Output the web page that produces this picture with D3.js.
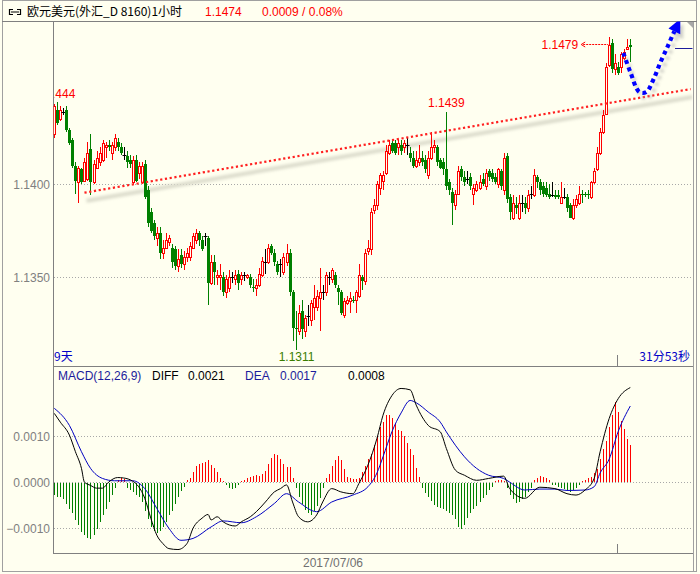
<!DOCTYPE html>
<html><head><meta charset="utf-8">
<script src="https://cdn.jsdelivr.net/npm/d3@7/dist/d3.min.js"></script>
<style>
html,body{margin:0;padding:0;background:#fffff0;}
svg{display:block;}
text{font-family:"Liberation Sans",Arial,sans-serif;font-size:12px;}
.cjk{font-family:"Noto Sans CJK SC","Liberation Sans",sans-serif;}
</style></head><body>
<svg id="c" width="700" height="574"></svg>
<script>
// ---------- DATA ----------
const title = "欧元美元(外汇_D 8160)1小时";
const lastPrice = "1.1474";
const change = "0.0009 / 0.08%";
const rangeLabel = "9天";
const timeLeft = "31分53秒";
const dateLabel = "2017/07/06";
const priceTicks = [1.1400, 1.1350];
const macdTicks = [0.0010, 0.0000, -0.0010];
const macdLegend = {name:"MACD(12,26,9)", diff:"0.0021", dea:"0.0017", macd:"0.0008"};

// hourly candles: [open, high, low, close]
const ohlc = [
[1.1427,1.1443,1.1425,1.1442],[1.1440,1.1444,1.1432,1.1433],[1.1435,1.1442,1.1434,1.1440],[1.1439,1.1441,1.1437,1.1439],
[1.1440,1.1442,1.1428,1.1429],[1.1429,1.1430,1.1421,1.1422],[1.1424,1.1425,1.1409,1.1410],[1.1410,1.1412,1.1395,1.1402],
[1.1401,1.1410,1.1390,1.1409],[1.1408,1.1409,1.1400,1.1401],[1.1402,1.1414,1.1401,1.1412],[1.1403,1.1423,1.1402,1.1417],
[1.1419,1.1427,1.1394,1.1401],[1.1401,1.1413,1.1400,1.1411],[1.1409,1.1418,1.1408,1.1414],[1.1412,1.1420,1.1410,1.1417],
[1.1413,1.1424,1.1412,1.1422],[1.1420,1.1423,1.1414,1.1421],[1.1421,1.1424,1.1418,1.1420],[1.1417,1.1423,1.1413,1.1421],
[1.1420,1.1427,1.1418,1.1425],[1.1423,1.1425,1.1418,1.1420],[1.1420,1.1422,1.1416,1.1417],[1.1416,1.1420,1.1413,1.1416],
[1.1415,1.1418,1.1409,1.1412],[1.1413,1.1416,1.1409,1.1411],[1.1401,1.1415,1.1400,1.1413],[1.1413,1.1416,1.1401,1.1402],
[1.1406,1.1412,1.1403,1.1410],[1.1401,1.1412,1.1400,1.1410],[1.1411,1.1413,1.1392,1.1393],[1.1397,1.1399,1.1377,1.1379],
[1.1385,1.1387,1.1374,1.1375],[1.1379,1.1381,1.1370,1.1372],[1.1371,1.1377,1.1367,1.1374],[1.1374,1.1377,1.1360,1.1363],
[1.1363,1.1370,1.1360,1.1366],[1.1366,1.1374,1.1365,1.1370],[1.1369,1.1373,1.1367,1.1371],[1.1366,1.1368,1.1355,1.1358],
[1.1365,1.1367,1.1354,1.1356],[1.1356,1.1365,1.1353,1.1360],[1.1362,1.1365,1.1355,1.1357],[1.1357,1.1364,1.1354,1.1361],
[1.1361,1.1366,1.1358,1.1363],[1.1361,1.1369,1.1359,1.1367],[1.1366,1.1374,1.1365,1.1372],[1.1370,1.1376,1.1368,1.1374],
[1.1374,1.1375,1.1367,1.1370],[1.1370,1.1372,1.1364,1.1365],[1.1372,1.1374,1.1367,1.1372],[1.1371,1.1372,1.1335,1.1347],
[1.1347,1.1362,1.1346,1.1358],[1.1358,1.1362,1.1346,1.1353],[1.1350,1.1354,1.1346,1.1351],[1.1350,1.1357,1.1343,1.1351],
[1.1350,1.1353,1.1340,1.1342],[1.1342,1.1351,1.1339,1.1349],[1.1344,1.1354,1.1342,1.1350],[1.1350,1.1353,1.1347,1.1350],
[1.1349,1.1354,1.1346,1.1351],[1.1352,1.1354,1.1343,1.1347],[1.1349,1.1353,1.1346,1.1351],[1.1351,1.1353,1.1348,1.1351],
[1.1350,1.1352,1.1349,1.1351],[1.1350,1.1352,1.1344,1.1346],[1.1345,1.1349,1.1342,1.1344],[1.1344,1.1349,1.1340,1.1346],
[1.1346,1.1355,1.1345,1.1352],[1.1351,1.1361,1.1350,1.1359],[1.1358,1.1365,1.1352,1.1358],[1.1358,1.1368,1.1357,1.1366],
[1.1367,1.1368,1.1362,1.1363],[1.1363,1.1365,1.1356,1.1358],[1.1357,1.1359,1.1351,1.1353],[1.1357,1.1360,1.1350,1.1357],
[1.1353,1.1363,1.1351,1.1361],[1.1358,1.1368,1.1356,1.1363],[1.1363,1.1365,1.1340,1.1342],[1.1342,1.1343,1.1316,1.1323],
[1.1323,1.1332,1.1311,1.1322],[1.1321,1.1335,1.1319,1.1331],[1.1332,1.1338,1.1317,1.1322],[1.1321,1.1330,1.1318,1.1328],
[1.1329,1.1335,1.1324,1.1329],[1.1327,1.1338,1.1324,1.1336],[1.1334,1.1346,1.1327,1.1339],[1.1334,1.1343,1.1332,1.1340],
[1.1339,1.1355,1.1321,1.1342],[1.1342,1.1346,1.1338,1.1342],[1.1342,1.1353,1.1340,1.1351],[1.1350,1.1353,1.1346,1.1350],
[1.1349,1.1355,1.1347,1.1354],[1.1351,1.1353,1.1344,1.1346],[1.1344,1.1346,1.1335,1.1342],[1.1342,1.1343,1.1330,1.1331],
[1.1330,1.1339,1.1328,1.1337],[1.1336,1.1340,1.1335,1.1338],[1.1337,1.1342,1.1331,1.1339],[1.1338,1.1340,1.1336,1.1337],
[1.1338,1.1343,1.1331,1.1342],[1.1340,1.1357,1.1339,1.1351],[1.1350,1.1351,1.1343,1.1348],[1.1348,1.1365,1.1346,1.1363],
[1.1364,1.1370,1.1362,1.1366],[1.1365,1.1387,1.1362,1.1385],[1.1386,1.1392,1.1384,1.1389],[1.1389,1.1402,1.1386,1.1400],
[1.1398,1.1406,1.1394,1.1405],[1.1402,1.1407,1.1397,1.1405],[1.1406,1.1421,1.1405,1.1418],[1.1417,1.1424,1.1416,1.1421],
[1.1422,1.1424,1.1417,1.1418],[1.1422,1.1424,1.1416,1.1417],[1.1420,1.1424,1.1416,1.1422],[1.1421,1.1424,1.1416,1.1418],
[1.1420,1.1424,1.1417,1.1422],[1.1421,1.1425,1.1416,1.1421],[1.1417,1.1420,1.1412,1.1414],[1.1414,1.1418,1.1409,1.1410],
[1.1410,1.1418,1.1409,1.1413],[1.1412,1.1421,1.1410,1.1414],[1.1414,1.1418,1.1410,1.1412],[1.1413,1.1416,1.1406,1.1408],
[1.1405,1.1418,1.1403,1.1414],[1.1414,1.1428,1.1413,1.1420],[1.1420,1.1424,1.1417,1.1421],[1.1420,1.1421,1.1410,1.1412],
[1.1413,1.1414,1.1408,1.1409],[1.1412,1.1414,1.1405,1.1408],[1.1408,1.1439,1.1397,1.1399],[1.1401,1.1403,1.1394,1.1397],
[1.1396,1.1398,1.1378,1.1390],[1.1389,1.1397,1.1386,1.1395],[1.1395,1.1410,1.1394,1.1407],[1.1408,1.1410,1.1402,1.1404],
[1.1404,1.1407,1.1399,1.1401],[1.1403,1.1407,1.1400,1.1403],[1.1404,1.1406,1.1397,1.1399],[1.1395,1.1400,1.1389,1.1398],
[1.1397,1.1402,1.1396,1.1400],[1.1398,1.1405,1.1397,1.1401],[1.1403,1.1406,1.1399,1.1400],[1.1399,1.1408,1.1397,1.1406],
[1.1407,1.1408,1.1402,1.1404],[1.1406,1.1408,1.1401,1.1403],[1.1404,1.1406,1.1400,1.1401],[1.1400,1.1409,1.1398,1.1408],
[1.1407,1.1408,1.1397,1.1399],[1.1397,1.1417,1.1394,1.1414],[1.1415,1.1417,1.1390,1.1392],[1.1393,1.1395,1.1381,1.1385],
[1.1382,1.1394,1.1381,1.1390],[1.1389,1.1393,1.1384,1.1387],[1.1382,1.1394,1.1381,1.1390],[1.1390,1.1394,1.1385,1.1390],
[1.1390,1.1393,1.1384,1.1387],[1.1387,1.1397,1.1385,1.1394],[1.1395,1.1399,1.1392,1.1395],[1.1394,1.1408,1.1393,1.1405],
[1.1404,1.1405,1.1398,1.1401],[1.1401,1.1403,1.1394,1.1397],[1.1399,1.1401,1.1393,1.1395],[1.1398,1.1401,1.1393,1.1394],
[1.1395,1.1400,1.1392,1.1393],[1.1394,1.1401,1.1393,1.1394],[1.1394,1.1397,1.1392,1.1393],[1.1394,1.1397,1.1392,1.1393],
[1.1390,1.1401,1.1390,1.1393],[1.1393,1.1398,1.1392,1.1393],[1.1393,1.1395,1.1385,1.1387],[1.1389,1.1390,1.1382,1.1382],
[1.1382,1.1392,1.1381,1.1389],[1.1389,1.1394,1.1387,1.1392],[1.1390,1.1399,1.1389,1.1395],[1.1395,1.1397,1.1390,1.1394],
[1.1395,1.1396,1.1393,1.1394],[1.1395,1.1397,1.1392,1.1394],[1.1393,1.1402,1.1392,1.1401],[1.1401,1.1409,1.1400,1.1407],
[1.1408,1.1420,1.1407,1.1417],[1.1417,1.1430,1.1416,1.1428],[1.1428,1.1440,1.1427,1.1437],[1.1438,1.1465,1.1437,1.1463],
[1.1464,1.1479,1.1463,1.1475],[1.1476,1.1478,1.1460,1.1462],[1.1462,1.1470,1.1459,1.1465],[1.1463,1.1466,1.1459,1.1460],
[1.1463,1.1471,1.1460,1.1470],[1.1468,1.1473,1.1467,1.1471],[1.1473,1.1478,1.1472,1.1474],[1.1475,1.1478,1.1466,1.1474]
];

// MACD histogram, one bar per candle
const macdHist = [
-0.00025,-0.0003,-0.00031,-0.00035,-0.00046,-0.00055,-0.00064,-0.0008,-0.0009,-0.00105,-0.00113,-0.00118,-0.00122,-0.00112,-0.001,-0.00085,
-0.0007,-0.00056,-0.0004,-0.00025,-0.0001,0.00005,0.00008,0.00007,-0.0001,-0.00015,-0.0002,-0.00025,-0.0003,-0.0004,-0.0006,-0.00078,
-0.00094,-0.00103,-0.00108,-0.00104,-0.00095,-0.00085,-0.0007,-0.0006,-0.00045,-0.0003,-0.00018,-0.00008,0.00005,0.0001,0.00023,0.00035,
0.0004,0.00042,0.00043,0.00048,0.00038,0.0003,0.00022,0.0001,0.00003,-0.00004,-0.0001,-0.00013,-0.0001,-0.00005,0.00002,0.00005,
0.00008,0.00012,0.00014,0.00015,0.00014,0.00018,0.00025,0.0004,0.00052,0.0006,0.00058,0.0005,0.0004,0.00033,0.00032,0.0001,
-0.0001,-0.0003,-0.00045,-0.00058,-0.00065,-0.00069,-0.0006,-0.0005,-0.00032,-0.0001,0.00008,0.00018,0.00035,0.00047,0.00056,0.00047,
0.00029,0.00011,0.00008,0.00006,0.00006,0.0001,0.00022,0.00035,0.0005,0.00061,0.0008,0.001,0.0012,0.0013,0.00145,0.00145,
0.0014,0.00125,0.00112,0.0011,0.001,0.00085,0.00072,0.00058,0.0003,0.00011,-0.0001,-0.00022,-0.0003,-0.00038,-0.00047,-0.00052,
-0.00054,-0.00055,-0.0006,-0.00065,-0.0007,-0.00078,-0.00094,-0.001,-0.0009,-0.00075,-0.00065,-0.00055,-0.0005,-0.0004,-0.00033,-0.00025,
-0.00015,-0.00008,0.00003,0.00004,0.00004,0.00002,-0.0001,-0.00025,-0.00035,-0.00043,-0.0004,-0.00035,-0.0003,-0.0002,-0.0001,0.00005,
0.0001,0.00014,0.00012,0.00008,0.00005,-0.00003,-0.00005,-0.00008,-0.0001,-0.00012,-0.00015,-0.0002,-0.00015,-0.0001,-0.00005,0.00003,
0.00005,0.00008,0.00012,0.0002,0.00029,0.0005,0.00072,0.0009,0.0012,0.00145,0.00173,0.00152,0.00133,0.00115,0.00094,0.0008
];

// DIFF (black) and DEA (blue) read at candle indices: [index, value]
const diffPoints = [[0,0.00149],[2,0.0013],[5,0.00102],[7,0.00066],[9,0.0003],[10,0.0],[12,-0.00007],[14,-0.00013],[16,-0.00013],[18,0.0],[21,0.0001],[23,0.00009],[26,0.00002],[28,-0.0001],[30,-0.00035],[32,-0.00078],[34,-0.00115],[36,-0.00133],[38,-0.00144],[41,-0.00146],[44,-0.00133],[46,-0.001],[49,-0.00078],[51,-0.0007],[52,-0.00082],[54,-0.00075],[56,-0.00086],[60,-0.00095],[62,-0.00086],[65,-0.00075],[67,-0.00064],[70,-0.00043],[73,-0.00021],[75,-0.00014],[77,-0.00006],[79,-0.00043],[81,-0.00075],[84,-0.00086],[87,-0.00071],[89,-0.00043],[92,-0.00014],[95,-0.00021],[99,-0.00025],[101,-0.00003],[104,0.00037],[107,0.00095],[109,0.00145],[112,0.00188],[115,0.00203],[118,0.002],[120,0.00167],[124,0.00123],[128,0.00109],[130,0.00073],[133,0.00026],[136,0.00015],[140,0.00004],[144,0.00008],[149,0.00013],[151,-0.00014],[156,-0.00035],[161,-0.00011],[166,-0.00014],[170,-0.00025],[173,-0.00028],[176,-0.00017],[179,0.00008],[181,0.00066],[184,0.00138],[187,0.00181],[191,0.00205]];
const deaPoints = [[0,0.0016],[5,0.00123],[9,0.00066],[12,0.0003],[16,0.00008],[20,0.00003],[26,0.00003],[30,-0.00014],[34,-0.00057],[38,-0.001],[42,-0.00126],[46,-0.00122],[52,-0.00097],[56,-0.00084],[62,-0.00088],[67,-0.00075],[73,-0.00046],[77,-0.00025],[81,-0.00043],[87,-0.00064],[92,-0.00043],[99,-0.00028],[104,-0.0001],[107,0.0002],[109,0.00055],[112,0.0011],[115,0.0015],[118,0.00177],[120,0.00172],[124,0.00152],[128,0.0013],[130,0.00109],[133,0.0008],[136,0.00055],[140,0.0003],[144,0.00015],[149,0.00008],[151,0.0],[156,-0.00017],[161,-0.00015],[166,-0.00015],[170,-0.00018],[176,-0.00017],[179,-0.0001],[181,0.0002],[184,0.0005],[187,0.0011],[191,0.00165]];

// annotations (candle index, price)
const trendLine = [[10,1.13955],[211,1.14512]];
const forecastPath = [[188.7,1.14706],[191,1.14604],[194,1.14496],[196.3,1.14496],[198.6,1.14561],[200.9,1.14652],[203.3,1.14738],[205.2,1.14808],[207.6,1.14890]];
const markHigh1 = 1;    // 1.1444 label
const markHigh2 = 130;  // 1.1439 label
const markLow = 80;     // 1.1311 label
const markTop = 184;    // 1.1479 label

// ---------- LAYOUT ----------
const W = 700, H = 574;
const L = 53, R = 693, topY = 21, sepY = 366, botY = 553;
const RED = "#ff0000", GREEN = "#008000", BLUE = "#0000c8", NAVY = "#1c1c9c", GRAY = "#808080";

const svg = d3.select("#c");
const defs = svg.append("defs");
defs.append("clipPath").attr("id","cpMain").append("rect").attr("x",L+0.5).attr("y",topY+0.5).attr("width",R-L-1).attr("height",sepY-topY-1);
defs.append("clipPath").attr("id","cpLbl").append("rect").attr("x",L+1.6).attr("y",topY+0.5).attr("width",R-L-2).attr("height",sepY-topY-1);
defs.append("clipPath").attr("id","cpMacd").append("rect").attr("x",L+0.5).attr("y",sepY+0.5).attr("width",R-L-1).attr("height",botY-sepY-1);
const blur = defs.append("filter").attr("id","blur").attr("x","-20%").attr("y","-50%").attr("width","140%").attr("height","200%");
blur.append("feGaussianBlur").attr("stdDeviation",1.8);

const N = ohlc.length;
const x = d3.scaleLinear().domain([0, N-1]).range([54.3, 630.3]);
const cx = i => Math.round(x(i)) + 0.5;
const yP = d3.scaleLinear().domain([1.1350, 1.1400]).range([277.3, 184.3]);
const yM = d3.scaleLinear().domain([-0.0010, 0.0010]).range([528.3, 436.0]);
const px = v => Math.round(v) + 0.5;

// background
svg.append("rect").attr("width",W).attr("height",H).attr("fill","#fffff0");

// frame
svg.append("rect").attr("x",2.5).attr("y",0.5).attr("width",694).attr("height",571).attr("fill","none").attr("stroke","#a0a0a0");
svg.append("line").attr("x1",R+0.5).attr("x2",R+0.5).attr("y1",topY).attr("y2",572).attr("stroke","#a0a0a0");
svg.append("line").attr("x1",2).attr("x2",697).attr("y1",topY+0.5).attr("y2",topY+0.5).attr("stroke",GRAY);
svg.append("line").attr("x1",L+0.5).attr("x2",L+0.5).attr("y1",topY).attr("y2",botY).attr("stroke",GRAY);
svg.append("line").attr("x1",L).attr("x2",R).attr("y1",sepY+0.5).attr("y2",sepY+0.5).attr("stroke",GRAY);
svg.append("line").attr("x1",L).attr("x2",R).attr("y1",botY+0.5).attr("y2",botY+0.5).attr("stroke",GRAY);
svg.append("path").attr("d",`M${R-6},${topY+1}H${R}V${topY+7}Z`).attr("fill","#a8a8a8");

// header
const hd = svg.append("g");
hd.append("path").attr("d","M13,9.5H9.5V14.5H13 M17,9.5H20.5V14.5H17 M11,12H19").attr("fill","none").attr("stroke","#000").attr("stroke-width",1.2);
hd.append("text").attr("class","cjk").attr("x",27).attr("y",16).attr("fill","#000").text(title);
hd.append("text").attr("x",205).attr("y",16).attr("fill",RED).text(lastPrice);
hd.append("text").attr("x",262).attr("y",16).attr("fill",RED).text(change);

// price gridlines + axis
svg.selectAll("line.g").data(priceTicks).join("line")
  .attr("x1",L+1).attr("x2",R).attr("y1",d=>px(yP(d))).attr("y2",d=>px(yP(d)))
  .attr("stroke","#a8a8a8").attr("stroke-dasharray","1,2");
const axP = svg.append("g").attr("transform",`translate(${L},0)`)
  .call(d3.axisLeft(yP).tickValues(priceTicks).tickFormat(d3.format(".4f")).tickSize(0).tickPadding(3));
axP.select(".domain").remove();
axP.selectAll("text").attr("fill",GRAY).style("font-size","12px").style("font-family","Liberation Sans, Arial, sans-serif").attr("dy","0.35em");

// MACD gridlines + axis
svg.selectAll("line.gm").data(macdTicks).join("line")
  .attr("x1",L+1).attr("x2",R).attr("y1",d=>px(yM(d))).attr("y2",d=>px(yM(d)))
  .attr("stroke","#a8a8a8").attr("stroke-dasharray","1,2");
const axM = svg.append("g").attr("transform",`translate(${L},0)`)
  .call(d3.axisLeft(yM).tickValues(macdTicks).tickFormat(d3.format(".4f")).tickSize(0).tickPadding(3));
axM.select(".domain").remove();
axM.selectAll("text").attr("fill",GRAY).style("font-size","12px").style("font-family","Liberation Sans, Arial, sans-serif").attr("dy","0.35em");

// ticks at day boundary
const tickX = 617.5;
svg.append("line").attr("x1",tickX).attr("x2",tickX).attr("y1",355).attr("y2",sepY).attr("stroke",GRAY);
svg.append("line").attr("x1",tickX).attr("x2",tickX).attr("y1",544).attr("y2",botY).attr("stroke",GRAY);
svg.append("text").attr("x",333).attr("y",567).attr("text-anchor","middle").attr("fill","#707070").text(dateLabel);

// main plot content
const plot = svg.append("g").attr("clip-path","url(#cpMain)");

// trend line shadow
const tl = d3.line().x(d=>x(d[0])).y(d=>yP(d[1]));
plot.append("path").attr("d",tl(trendLine)).attr("transform","translate(2,8)")
  .attr("stroke","#dcdccc").attr("stroke-width",4).attr("fill","none").attr("filter","url(#blur)");

// candles
const cg = plot.append("g");
ohlc.forEach((d,i)=>{
  const [o,h,l,c] = d;
  const xx = cx(i);
  const yT = Math.round(yP(Math.max(o,c))), yB = Math.round(yP(Math.min(o,c)));
  const yH = Math.round(yP(h)), yL = Math.round(yP(l));
  if (c > o) {
    cg.append("line").attr("x1",xx).attr("x2",xx).attr("y1",yH).attr("y2",yT).attr("stroke",RED);
    cg.append("line").attr("x1",xx).attr("x2",xx).attr("y1",yB).attr("y2",yL).attr("stroke",RED);
    cg.append("rect").attr("x",xx-1).attr("y",yT+0.5).attr("width",2).attr("height",Math.max(yB-yT,1))
      .attr("fill","#fffff0").attr("stroke",RED);
  } else if (c < o) {
    cg.append("line").attr("x1",xx).attr("x2",xx).attr("y1",yH).attr("y2",yL).attr("stroke",GREEN);
    cg.append("rect").attr("x",xx-1.5).attr("y",yT).attr("width",3).attr("height",Math.max(yB-yT,1)).attr("fill",GREEN);
  } else {
    cg.append("line").attr("x1",xx).attr("x2",xx).attr("y1",yH).attr("y2",yL).attr("stroke","#000");
    cg.append("line").attr("x1",xx-2).attr("x2",xx+2).attr("y1",yT+0.5).attr("y2",yT+0.5).attr("stroke","#000");
  }
});

// trend line (red dotted)
plot.append("path").attr("d",tl(trendLine)).attr("stroke","#ff2020").attr("stroke-width",2.2)
  .attr("stroke-dasharray","2.2,2.6").attr("fill","none");

// current price marker
plot.append("line").attr("x1",675).attr("x2",R).attr("y1",px(yP(ohlc[N-1][3]))+1).attr("y2",px(yP(ohlc[N-1][3]))+1).attr("stroke",NAVY);

// forecast blue dotted arrow
const fl = d3.line().x(d=>x(d[0])).y(d=>yP(d[1])).curve(d3.curveCatmullRom);
const fpts = forecastPath;
const tip = fpts[fpts.length-1], pre = fpts[fpts.length-2];
const tx = x(tip[0]), ty = yP(tip[1]), ang = Math.atan2(ty - yP(pre[1]), tx - x(pre[0]));
const hl = 14, hw = 6.5;
const bx = tx - hl*Math.cos(ang), by = ty - hl*Math.sin(ang);
const head = [[tx,ty],[bx + hw*Math.sin(ang), by - hw*Math.cos(ang)],[bx - hw*Math.sin(ang), by + hw*Math.cos(ang)]];
const shaft = fpts.slice(0,-1).concat([[x.invert(bx), yP.invert(by)]]);
const sh = plot.append("g").attr("transform","translate(3,5)").attr("filter","url(#blur)").attr("opacity",0.5);
sh.append("path").attr("d",fl(shaft)).attr("stroke","#a0a0a0").attr("stroke-width",4).attr("fill","none").attr("stroke-dasharray","3.5,3.5");
sh.append("path").attr("d",d3.line()(head)+"Z").attr("fill","#a0a0a0");
plot.append("path").attr("d",fl(shaft)).attr("stroke","#0000ff").attr("stroke-width",4.2).attr("fill","none").attr("stroke-dasharray","4,3.6");
plot.append("path").attr("d",d3.line()(head)+"Z").attr("fill","#0000ff");

// high/low labels
const fmt4 = d3.format(".4f");
const h1 = ohlc[markHigh1][1];
svg.append("g").attr("clip-path","url(#cpLbl)").append("text").attr("x",x(markHigh1)+18).attr("y",yP(h1)-4)
  .attr("text-anchor","end").attr("fill",RED).text(fmt4(h1));
const h2 = ohlc[markHigh2][1];
plot.append("text").attr("x",x(markHigh2)).attr("y",yP(h2)-4.5).attr("text-anchor","middle").attr("fill",RED).text(fmt4(h2));
const lo = ohlc[markLow][2];
svg.append("text").attr("x",x(markLow)+1).attr("y",360.5).attr("text-anchor","middle").attr("fill","#3a7d00").text(fmt4(lo));
const ht = ohlc[markTop][1];
const ay = px(yP(ht)+7);
const axs = x(markTop);
plot.append("text").attr("x",axs-31).attr("y",ay+4.5).attr("text-anchor","end").attr("fill",RED).text(fmt4(ht));
plot.append("line").attr("x1",axs-26).attr("x2",axs-1).attr("y1",ay).attr("y2",ay).attr("stroke",RED).attr("stroke-dasharray","2,1");
plot.append("path").attr("d",`M${axs-24},${ay-2.5}L${axs-28},${ay}L${axs-24},${ay+2.5}`).attr("stroke",RED).attr("fill","none");

// panel bottom labels
svg.append("text").attr("class","cjk").attr("x",54).attr("y",361).attr("fill",BLUE).text(rangeLabel);
svg.append("text").attr("class","cjk").attr("x",690).attr("y",361).attr("text-anchor","end").attr("fill",BLUE).text(timeLeft);

// MACD legend
const lg = svg.append("g");
lg.append("text").attr("x",58).attr("y",380).attr("fill",NAVY).text(macdLegend.name);
lg.append("text").attr("x",152).attr("y",380).attr("fill","#000").text("DIFF");
lg.append("text").attr("x",188).attr("y",380).attr("fill","#000").text(macdLegend.diff);
lg.append("text").attr("x",245).attr("y",380).attr("fill",NAVY).text("DEA");
lg.append("text").attr("x",280).attr("y",380).attr("fill",NAVY).text(macdLegend.dea);
lg.append("text").attr("x",348).attr("y",380).attr("fill","#000").text(macdLegend.macd);

// MACD content
const mg = svg.append("g").attr("clip-path","url(#cpMacd)");
const z = Math.round(yM(0));
mg.selectAll("line.h").data(macdHist).join("line")
  .attr("x1",(d,i)=>cx(i)).attr("x2",(d,i)=>cx(i))
  .attr("y1",d=> d>=0 ? z : z+1).attr("y2",d=>Math.round(yM(d)) + (d>=0?0:1))
  .attr("stroke",d=> d>=0 ? RED : GREEN);
const ml = d3.line().x(d=>x(d[0])).y(d=>yM(d[1])).curve(d3.curveMonotoneX);
mg.append("path").attr("d",ml(deaPoints)).attr("stroke","#0000c0").attr("fill","none").attr("stroke-width",1);
mg.append("path").attr("d",ml(diffPoints)).attr("stroke","#000").attr("fill","none").attr("stroke-width",1);
</script>
</body></html>
